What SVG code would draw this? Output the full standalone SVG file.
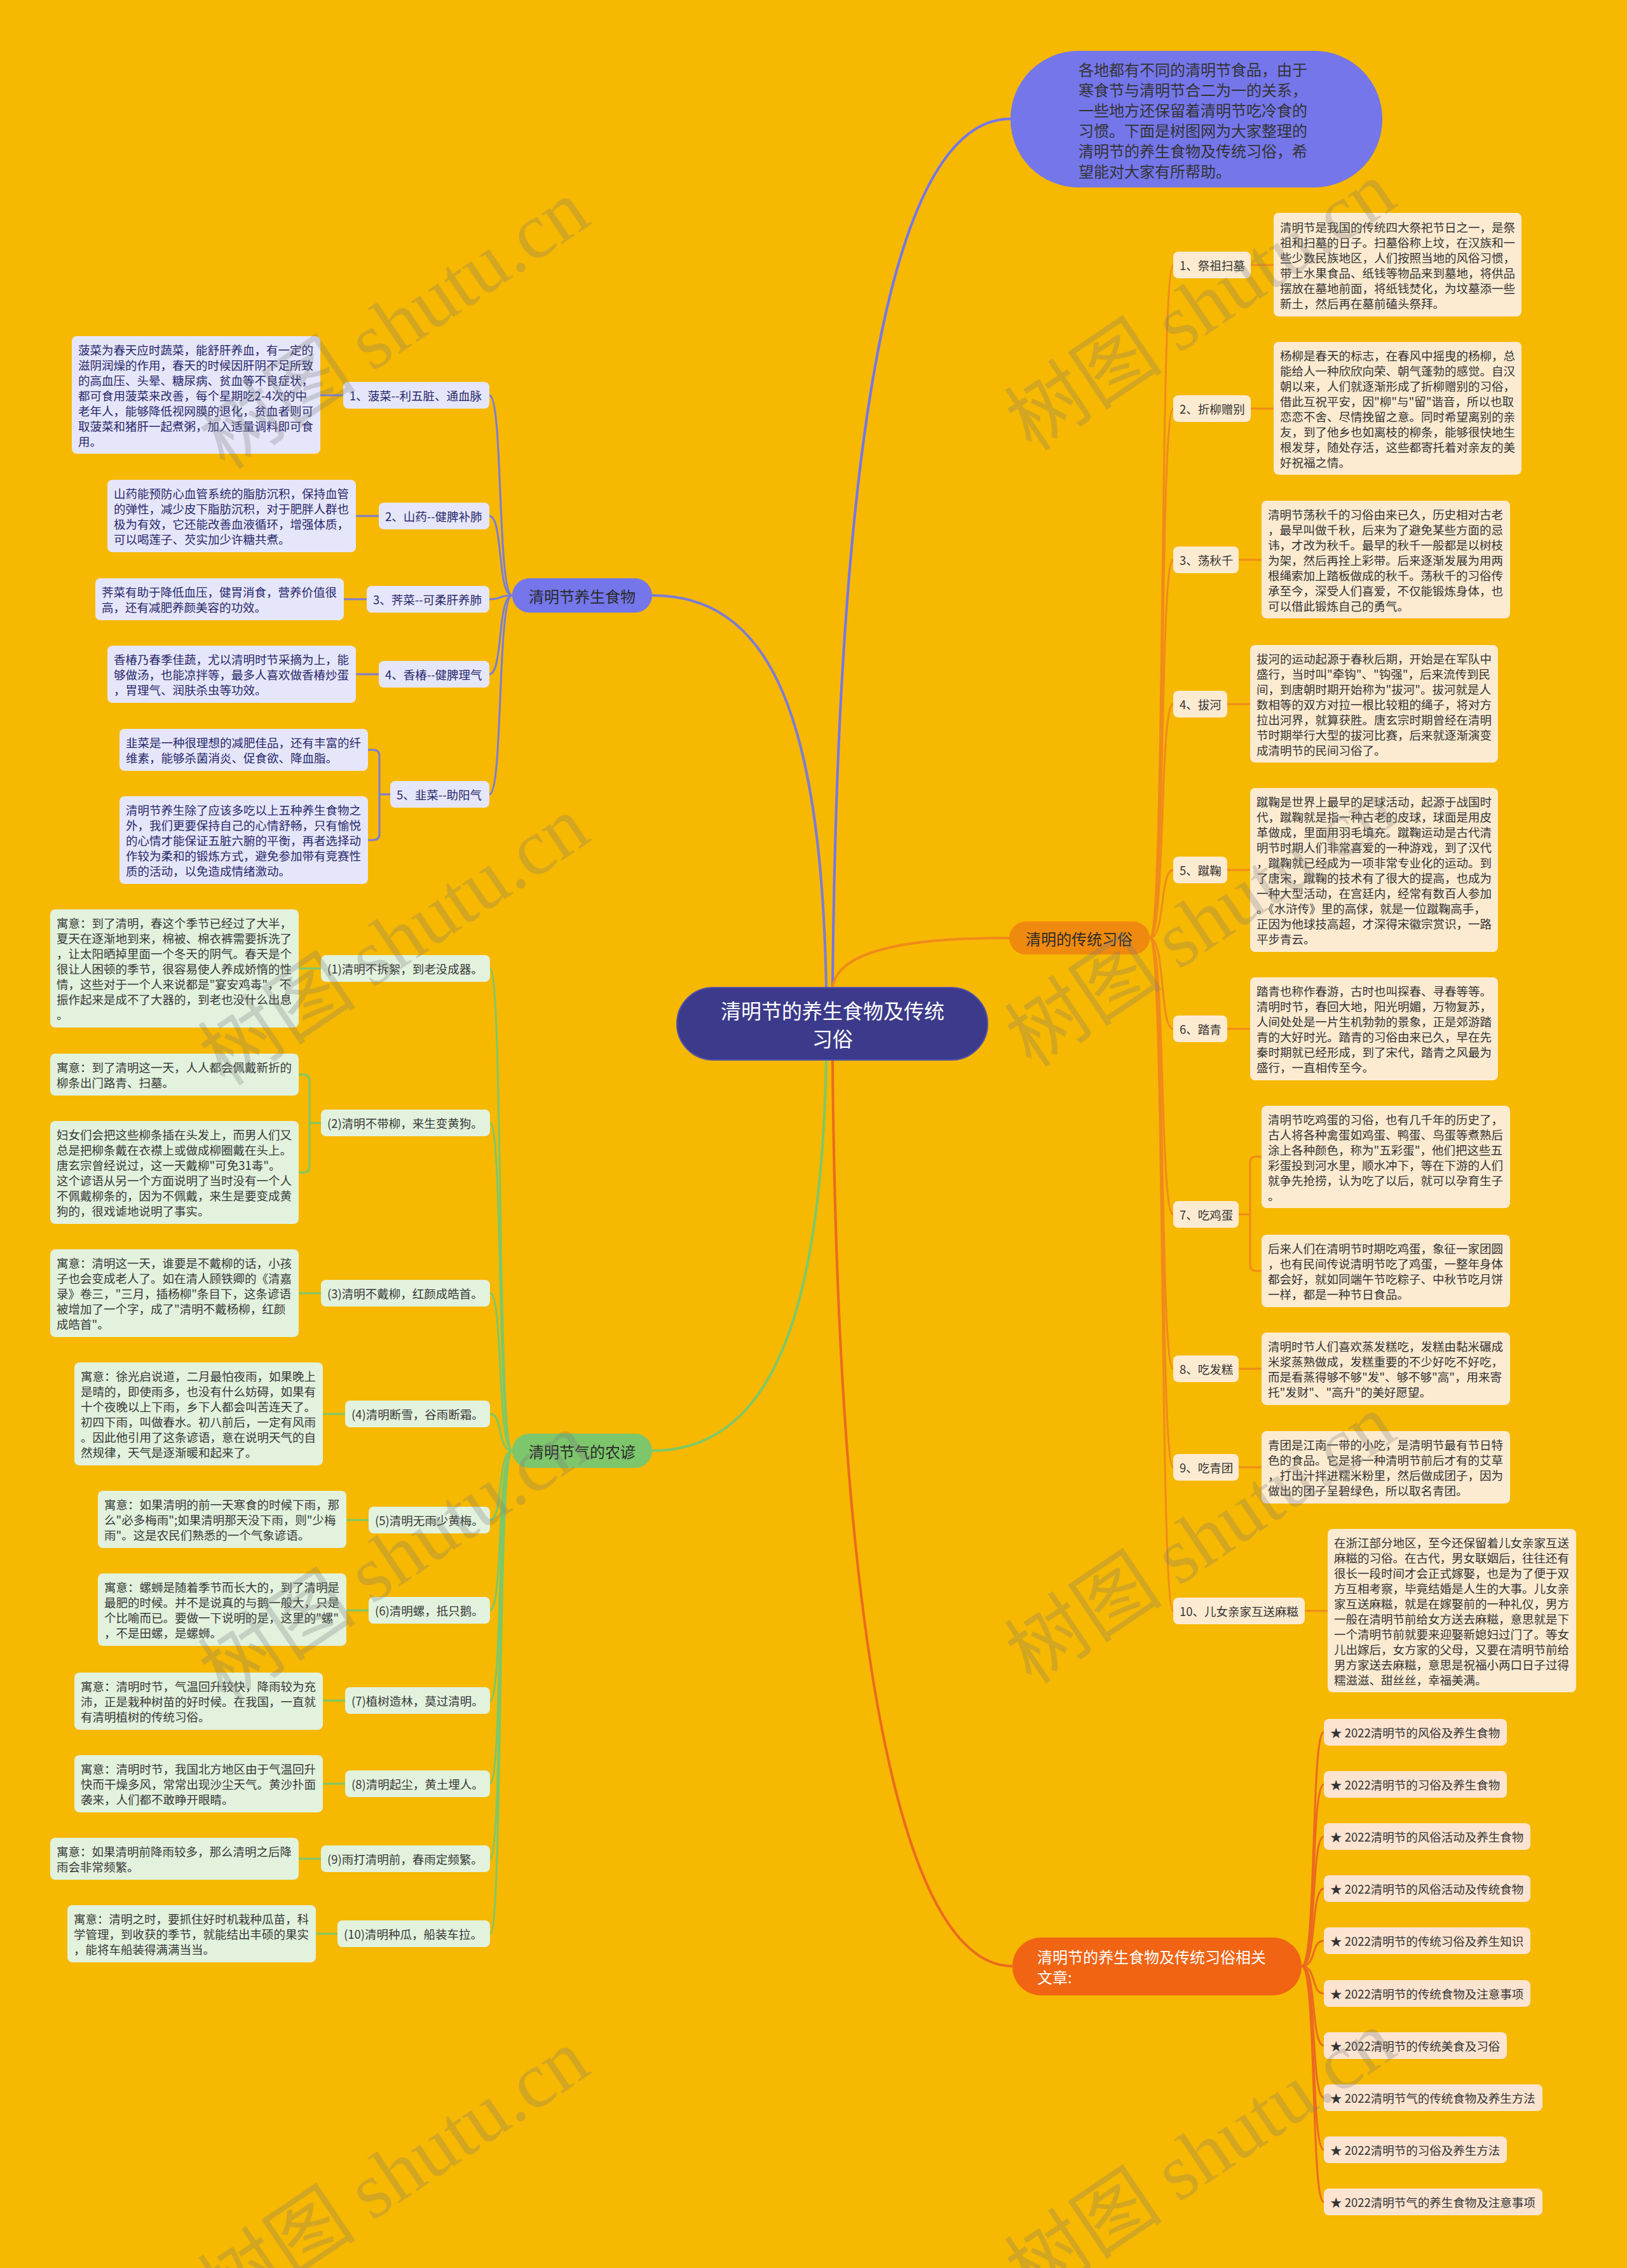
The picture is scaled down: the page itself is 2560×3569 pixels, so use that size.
<svg xmlns="http://www.w3.org/2000/svg" width="2560" height="3569" viewBox="0 0 2560 3569">
<style>
text{font-family:"Noto Sans CJK SC","Liberation Sans",sans-serif;dominant-baseline:central}
.t{font-size:18.5px;fill:#333}
.tf{font-size:18.5px;fill:#27286B}
.tp{font-size:18.5px;fill:#383838}
.rb{fill:#FDEBD1}
.fb{fill:#E6E6FA}
.pb{fill:#E2F2DD}
.ab{fill:#FCE4D0}
.c-main{fill:none;stroke-width:4;stroke-linecap:round}
.c-or{fill:none;stroke:#F08A1A;stroke-width:3}
.c-rd{fill:none;stroke:#EC6A1E;stroke-width:3}
.c-pu{fill:none;stroke:#7C7CD6;stroke-width:3}
.c-gr{fill:none;stroke:#7CC86A;stroke-width:3}
.wm{font-size:125px;fill:#7a7a7a;opacity:0.28;dominant-baseline:alphabetic}
.wm .en{font-family:"Liberation Serif",serif}
</style>
<rect x="0" y="0" width="2560" height="3569" fill="#F6B800"/>

<g id="connectors">
  <path class="c-main" stroke="#7476EA" d="M1310 1554 C1318 700,1400 187,1590 187"/>
  <path class="c-main" stroke="#F08A1A" d="M1310 1554 C1318 1490,1450 1476,1588 1476"/>
  <path class="c-main" stroke="#EC6A1E" d="M1310 1668 C1318 2600,1420 3094,1593 3094"/>
  <path class="c-main" stroke="#7C7CD6" d="M1300 1554 C1292 1100,1200 937,1026 937"/>
  <path class="c-main" stroke="#7CC86A" d="M1300 1668 C1292 2100,1200 2283,1026 2283"/>
  <!-- right customs -->
  <path class="c-or" d="M1809 1476 C1834 1476,1824 417,1846 417"/>
  <path class="c-or" d="M1809 1476 C1834 1476,1824 643,1846 643"/>
  <path class="c-or" d="M1809 1476 C1834 1476,1824 881,1846 881"/>
  <path class="c-or" d="M1809 1476 C1834 1476,1824 1108,1846 1108"/>
  <path class="c-or" d="M1809 1476 C1834 1476,1824 1369,1846 1369"/>
  <path class="c-or" d="M1809 1476 C1834 1476,1824 1619,1846 1619"/>
  <path class="c-or" d="M1809 1476 C1834 1476,1824 1911,1846 1911"/>
  <path class="c-or" d="M1809 1476 C1834 1476,1824 2154,1846 2154"/>
  <path class="c-or" d="M1809 1476 C1834 1476,1824 2309,1846 2309"/>
  <path class="c-or" d="M1809 1476 C1834 1476,1824 2535,1846 2535"/>
  <path class="c-or" d="M1968 417 H2004"/>
  <path class="c-or" d="M1968 643 H2004"/>
  <path class="c-or" d="M1949 881 H1985"/>
  <path class="c-or" d="M1931 1108 H1967"/>
  <path class="c-or" d="M1931 1369 H1967"/>
  <path class="c-or" d="M1931 1619 H1967"/>
  <path class="c-or" d="M1949 1911 H1967 M1985 1820 H1977 Q1967 1820 1967 1830 V1990 Q1967 2000 1977 2000 H1985"/>
  <path class="c-or" d="M1949 2154 H1985"/>
  <path class="c-or" d="M1949 2309 H1985"/>
  <path class="c-or" d="M2053 2535 H2089"/>
  <!-- articles -->
  <path class="c-rd" d="M2048 3094 C2072 3094,2062 2726,2083 2726"/>
  <path class="c-rd" d="M2048 3094 C2072 3094,2062 2808,2083 2808"/>
  <path class="c-rd" d="M2048 3094 C2072 3094,2062 2890,2083 2890"/>
  <path class="c-rd" d="M2048 3094 C2072 3094,2062 2972,2083 2972"/>
  <path class="c-rd" d="M2048 3094 C2072 3094,2062 3054,2083 3054"/>
  <path class="c-rd" d="M2048 3094 C2072 3094,2062 3137,2083 3137"/>
  <path class="c-rd" d="M2048 3094 C2072 3094,2062 3219,2083 3219"/>
  <path class="c-rd" d="M2048 3094 C2072 3094,2062 3301,2083 3301"/>
  <path class="c-rd" d="M2048 3094 C2072 3094,2062 3383,2083 3383"/>
  <path class="c-rd" d="M2048 3094 C2072 3094,2062 3465,2083 3465"/>
  <!-- food -->
  <path class="c-pu" d="M806 937 C782 937,792 622,770 622"/>
  <path class="c-pu" d="M806 937 C782 937,792 812,770 812"/>
  <path class="c-pu" d="M806 937 C782 937,792 943,770 943"/>
  <path class="c-pu" d="M806 937 C782 937,792 1061,770 1061"/>
  <path class="c-pu" d="M806 937 C782 937,792 1250,770 1250"/>
  <path class="c-pu" d="M540 622 H504"/>
  <path class="c-pu" d="M596 812 H560"/>
  <path class="c-pu" d="M577 943 H541"/>
  <path class="c-pu" d="M596 1061 H560"/>
  <path class="c-pu" d="M614 1250 H597 M579 1180 H587 Q597 1180 597 1190 V1312 Q597 1322 587 1322 H579"/>
  <!-- proverbs -->
  <path class="c-gr" d="M806 2283 C782 2283,792 1524,771 1524"/>
  <path class="c-gr" d="M806 2283 C782 2283,792 1767,771 1767"/>
  <path class="c-gr" d="M806 2283 C782 2283,792 2035,771 2035"/>
  <path class="c-gr" d="M806 2283 C782 2283,792 2225,771 2225"/>
  <path class="c-gr" d="M806 2283 C782 2283,792 2392,771 2392"/>
  <path class="c-gr" d="M806 2283 C782 2283,792 2534,771 2534"/>
  <path class="c-gr" d="M806 2283 C782 2283,792 2676,771 2676"/>
  <path class="c-gr" d="M806 2283 C782 2283,792 2807,771 2807"/>
  <path class="c-gr" d="M806 2283 C782 2283,792 2925,771 2925"/>
  <path class="c-gr" d="M806 2283 C782 2283,792 3043,771 3043"/>
  <path class="c-gr" d="M505 1524 H470"/>
  <path class="c-gr" d="M505 1767 H487 M470 1691 H477 Q487 1691 487 1701 V1835 Q487 1845 477 1845 H470"/>
  <path class="c-gr" d="M505 2035 H470"/>
  <path class="c-gr" d="M543 2225 H508"/>
  <path class="c-gr" d="M580 2392 H545"/>
  <path class="c-gr" d="M580 2534 H545"/>
  <path class="c-gr" d="M543 2676 H508"/>
  <path class="c-gr" d="M543 2807 H508"/>
  <path class="c-gr" d="M505 2925 H470"/>
  <path class="c-gr" d="M531 3043 H497"/>
</g>

<g id="root">
  <rect x="1065" y="1554" width="489" height="114" rx="57" fill="#3C3A8A" stroke="#5552A8" stroke-width="2"/>
  <text x="1310" y="1589" text-anchor="middle" style="font-size:32px;fill:#fff">清明节的养生食物及传统</text>
  <text x="1310" y="1633" text-anchor="middle" style="font-size:32px;fill:#fff">习俗</text>
</g>

<g id="intro">
  <rect x="1590" y="80" width="585" height="215" rx="107" fill="#7476EA"/>
  <text style="font-size:24px;fill:#333">
    <tspan x="1697" y="108">各地都有不同的清明节食品，由于</tspan>
    <tspan x="1697" y="140">寒食节与清明节合二为一的关系，</tspan>
    <tspan x="1697" y="172">一些地方还保留着清明节吃冷食的</tspan>
    <tspan x="1697" y="204">习惯。下面是树图网为大家整理的</tspan>
    <tspan x="1697" y="236">清明节的养生食物及传统习俗，希</tspan>
    <tspan x="1697" y="268">望能对大家有所帮助。</tspan>
  </text>
</g>

<g id="customs">
  <rect x="1588" y="1450" width="221" height="52" rx="26" fill="#F08A0E"/>
  <text x="1698" y="1476" text-anchor="middle" style="font-size:24px;fill:#2a2a2a">清明的传统习俗</text>
</g>

<g id="c1">
  <rect class="rb" x="1846" y="396" width="122" height="42" rx="8"/>
  <text class="t" x="1856" y="417">1、祭祖扫墓</text>
  <rect class="rb" x="2004" y="335" width="390" height="163" rx="8"/>
  <text class="t">
    <tspan x="2014" y="356.5">清明节是我国的传统四大祭祀节日之一，是祭</tspan>
    <tspan x="2014" y="380.5">祖和扫墓的日子。扫墓俗称上坟，在汉族和一</tspan>
    <tspan x="2014" y="404.5">些少数民族地区，人们按照当地的风俗习惯，</tspan>
    <tspan x="2014" y="428.5">带上水果食品、纸钱等物品来到墓地，将供品</tspan>
    <tspan x="2014" y="452.5">摆放在墓地前面，将纸钱焚化，为坟墓添一些</tspan>
    <tspan x="2014" y="476.5">新土，然后再在墓前磕头祭拜。</tspan>
  </text>
</g>
<g id="c2">
  <rect class="rb" x="1846" y="622" width="122" height="42" rx="8"/>
  <text class="t" x="1856" y="643">2、折柳赠别</text>
  <rect class="rb" x="2004" y="538" width="390" height="209" rx="8"/>
  <text class="t">
    <tspan x="2014" y="558.5">杨柳是春天的标志，在春风中摇曳的杨柳，总</tspan>
    <tspan x="2014" y="582.5">能给人一种欣欣向荣、朝气蓬勃的感觉。自汉</tspan>
    <tspan x="2014" y="606.5">朝以来，人们就逐渐形成了折柳赠别的习俗，</tspan>
    <tspan x="2014" y="630.5">借此互祝平安，因"柳"与"留"谐音，所以也取</tspan>
    <tspan x="2014" y="654.5">恋恋不舍、尽情挽留之意。同时希望离别的亲</tspan>
    <tspan x="2014" y="678.5">友，到了他乡也如离枝的柳条，能够很快地生</tspan>
    <tspan x="2014" y="702.5">根发芽，随处存活，这些都寄托着对亲友的美</tspan>
    <tspan x="2014" y="726.5">好祝福之情。</tspan>
  </text>
</g>
<g id="c3">
  <rect class="rb" x="1846" y="860" width="103" height="42" rx="8"/>
  <text class="t" x="1856" y="881">3、荡秋千</text>
  <rect class="rb" x="1985" y="788" width="391" height="185" rx="8"/>
  <text class="t">
    <tspan x="1995" y="808.5">清明节荡秋千的习俗由来已久，历史相对古老</tspan>
    <tspan x="1995" y="832.5">，最早叫做千秋，后来为了避免某些方面的忌</tspan>
    <tspan x="1995" y="856.5">讳，才改为秋千。最早的秋千一般都是以树枝</tspan>
    <tspan x="1995" y="880.5">为架，然后再拴上彩带。后来逐渐发展为用两</tspan>
    <tspan x="1995" y="904.5">根绳索加上踏板做成的秋千。荡秋千的习俗传</tspan>
    <tspan x="1995" y="928.5">承至今，深受人们喜爱，不仅能锻炼身体，也</tspan>
    <tspan x="1995" y="952.5">可以借此锻炼自己的勇气。</tspan>
  </text>
</g>
<g id="c4">
  <rect class="rb" x="1846" y="1087" width="85" height="42" rx="8"/>
  <text class="t" x="1856" y="1108">4、拔河</text>
  <rect class="rb" x="1967" y="1015" width="390" height="185" rx="8"/>
  <text class="t">
    <tspan x="1977" y="1035.5">拔河的运动起源于春秋后期，开始是在军队中</tspan>
    <tspan x="1977" y="1059.5">盛行，当时叫"牵钩"、"钩强"，后来流传到民</tspan>
    <tspan x="1977" y="1083.5">间，到唐朝时期开始称为"拔河"。拔河就是人</tspan>
    <tspan x="1977" y="1107.5">数相等的双方对拉一根比较粗的绳子，将对方</tspan>
    <tspan x="1977" y="1131.5">拉出河界，就算获胜。唐玄宗时期曾经在清明</tspan>
    <tspan x="1977" y="1155.5">节时期举行大型的拔河比赛，后来就逐渐演变</tspan>
    <tspan x="1977" y="1179.5">成清明节的民间习俗了。</tspan>
  </text>
</g>
<g id="c5">
  <rect class="rb" x="1846" y="1348" width="85" height="42" rx="8"/>
  <text class="t" x="1856" y="1369">5、蹴鞠</text>
  <rect class="rb" x="1967" y="1240" width="390" height="258" rx="8"/>
  <text class="t">
    <tspan x="1977" y="1261">蹴鞠是世界上最早的足球活动，起源于战国时</tspan>
    <tspan x="1977" y="1285">代，蹴鞠就是指一种古老的皮球，球面是用皮</tspan>
    <tspan x="1977" y="1309">革做成，里面用羽毛填充。蹴鞠运动是古代清</tspan>
    <tspan x="1977" y="1333">明节时期人们非常喜爱的一种游戏，到了汉代</tspan>
    <tspan x="1977" y="1357">，蹴鞠就已经成为一项非常专业化的运动。到</tspan>
    <tspan x="1977" y="1381">了唐宋，蹴鞠的技术有了很大的提高，也成为</tspan>
    <tspan x="1977" y="1405">一种大型活动，在宫廷内，经常有数百人参加</tspan>
    <tspan x="1977" y="1429">。《水浒传》里的高俅，就是一位蹴鞠高手，</tspan>
    <tspan x="1977" y="1453">正因为他球技高超，才深得宋徽宗赏识，一路</tspan>
    <tspan x="1977" y="1477">平步青云。</tspan>
  </text>
</g>
<g id="c6">
  <rect class="rb" x="1846" y="1598" width="85" height="42" rx="8"/>
  <text class="t" x="1856" y="1619">6、踏青</text>
  <rect class="rb" x="1967" y="1538" width="390" height="162" rx="8"/>
  <text class="t">
    <tspan x="1977" y="1559">踏青也称作春游，古时也叫探春、寻春等等。</tspan>
    <tspan x="1977" y="1583">清明时节，春回大地，阳光明媚，万物复苏，</tspan>
    <tspan x="1977" y="1607">人间处处是一片生机勃勃的景象，正是郊游踏</tspan>
    <tspan x="1977" y="1631">青的大好时光。踏青的习俗由来已久，早在先</tspan>
    <tspan x="1977" y="1655">秦时期就已经形成，到了宋代，踏青之风最为</tspan>
    <tspan x="1977" y="1679">盛行，一直相传至今。</tspan>
  </text>
</g>
<g id="c7">
  <rect class="rb" x="1846" y="1890" width="103" height="42" rx="8"/>
  <text class="t" x="1856" y="1911">7、吃鸡蛋</text>
  <rect class="rb" x="1985" y="1740" width="391" height="161" rx="8"/>
  <text class="t">
    <tspan x="1995" y="1760.5">清明节吃鸡蛋的习俗，也有几千年的历史了，</tspan>
    <tspan x="1995" y="1784.5">古人将各种禽蛋如鸡蛋、鸭蛋、鸟蛋等煮熟后</tspan>
    <tspan x="1995" y="1808.5">涂上各种颜色，称为"五彩蛋"，他们把这些五</tspan>
    <tspan x="1995" y="1832.5">彩蛋投到河水里，顺水冲下，等在下游的人们</tspan>
    <tspan x="1995" y="1856.5">就争先抢捞，认为吃了以后，就可以孕育生子</tspan>
    <tspan x="1995" y="1880.5">。</tspan>
  </text>
  <rect class="rb" x="1985" y="1943" width="391" height="114" rx="8"/>
  <text class="t">
    <tspan x="1995" y="1964">后来人们在清明节时期吃鸡蛋，象征一家团圆</tspan>
    <tspan x="1995" y="1988">，也有民间传说清明节吃了鸡蛋，一整年身体</tspan>
    <tspan x="1995" y="2012">都会好，就如同端午节吃粽子、中秋节吃月饼</tspan>
    <tspan x="1995" y="2036">一样，都是一种节日食品。</tspan>
  </text>
</g>
<g id="c8">
  <rect class="rb" x="1846" y="2133" width="103" height="42" rx="8"/>
  <text class="t" x="1856" y="2154">8、吃发糕</text>
  <rect class="rb" x="1985" y="2097" width="391" height="114" rx="8"/>
  <text class="t">
    <tspan x="1995" y="2118">清明时节人们喜欢蒸发糕吃，发糕由黏米碾成</tspan>
    <tspan x="1995" y="2142">米浆蒸熟做成，发糕重要的不少好吃不好吃，</tspan>
    <tspan x="1995" y="2166">而是看蒸得够不够"发"、够不够"高"，用来寄</tspan>
    <tspan x="1995" y="2190">托"发财"、"高升"的美好愿望。</tspan>
  </text>
</g>
<g id="c9">
  <rect class="rb" x="1846" y="2288" width="103" height="42" rx="8"/>
  <text class="t" x="1856" y="2309">9、吃青团</text>
  <rect class="rb" x="1985" y="2252" width="391" height="114" rx="8"/>
  <text class="t">
    <tspan x="1995" y="2273">青团是江南一带的小吃，是清明节最有节日特</tspan>
    <tspan x="1995" y="2297">色的食品。它是将一种清明节前后才有的艾草</tspan>
    <tspan x="1995" y="2321">，打出汁拌进糯米粉里，然后做成团子，因为</tspan>
    <tspan x="1995" y="2345">做出的团子呈碧绿色，所以取名青团。</tspan>
  </text>
</g>
<g id="c10">
  <rect class="rb" x="1846" y="2514" width="207" height="42" rx="8"/>
  <text class="t" x="1856" y="2535">10、儿女亲家互送麻糍</text>
  <rect class="rb" x="2089" y="2406" width="391" height="257" rx="8"/>
  <text class="t">
    <tspan x="2099" y="2426.5">在浙江部分地区，至今还保留着儿女亲家互送</tspan>
    <tspan x="2099" y="2450.5">麻糍的习俗。在古代，男女联姻后，往往还有</tspan>
    <tspan x="2099" y="2474.5">很长一段时间才会正式嫁娶，也是为了便于双</tspan>
    <tspan x="2099" y="2498.5">方互相考察，毕竟结婚是人生的大事。儿女亲</tspan>
    <tspan x="2099" y="2522.5">家互送麻糍，就是在嫁娶前的一种礼仪，男方</tspan>
    <tspan x="2099" y="2546.5">一般在清明节前给女方送去麻糍，意思就是下</tspan>
    <tspan x="2099" y="2570.5">一个清明节前就要来迎娶新媳妇过门了。等女</tspan>
    <tspan x="2099" y="2594.5">儿出嫁后，女方家的父母，又要在清明节前给</tspan>
    <tspan x="2099" y="2618.5">男方家送去麻糍，意思是祝福小两口日子过得</tspan>
    <tspan x="2099" y="2642.5">糯滋滋、甜丝丝，幸福美满。</tspan>
  </text>
</g>

<g id="articles">
  <rect x="1593" y="3049" width="455" height="91" rx="45" fill="#F06414"/>
  <text style="font-size:24px;fill:#fff">
    <tspan x="1632" y="3078">清明节的养生食物及传统习俗相关</tspan>
    <tspan x="1632" y="3110">文章:</tspan>
  </text>
</g>
<g id="a1"><rect class="ab" x="2083" y="2705" width="288" height="42" rx="8"/><text class="t" x="2093" y="2726">★ 2022清明节的风俗及养生食物</text></g>
<g id="a2"><rect class="ab" x="2083" y="2787" width="288" height="42" rx="8"/><text class="t" x="2093" y="2808">★ 2022清明节的习俗及养生食物</text></g>
<g id="a3"><rect class="ab" x="2083" y="2869" width="325" height="42" rx="8"/><text class="t" x="2093" y="2890">★ 2022清明节的风俗活动及养生食物</text></g>
<g id="a4"><rect class="ab" x="2083" y="2951" width="325" height="42" rx="8"/><text class="t" x="2093" y="2972">★ 2022清明节的风俗活动及传统食物</text></g>
<g id="a5"><rect class="ab" x="2083" y="3033" width="325" height="42" rx="8"/><text class="t" x="2093" y="3054">★ 2022清明节的传统习俗及养生知识</text></g>
<g id="a6"><rect class="ab" x="2083" y="3116" width="325" height="42" rx="8"/><text class="t" x="2093" y="3137">★ 2022清明节的传统食物及注意事项</text></g>
<g id="a7"><rect class="ab" x="2083" y="3198" width="288" height="42" rx="8"/><text class="t" x="2093" y="3219">★ 2022清明节的传统美食及习俗</text></g>
<g id="a8"><rect class="ab" x="2083" y="3280" width="344" height="42" rx="8"/><text class="t" x="2093" y="3301">★ 2022清明节气的传统食物及养生方法</text></g>
<g id="a9"><rect class="ab" x="2083" y="3362" width="288" height="42" rx="8"/><text class="t" x="2093" y="3383">★ 2022清明节的习俗及养生方法</text></g>
<g id="a10"><rect class="ab" x="2083" y="3444" width="344" height="42" rx="8"/><text class="t" x="2093" y="3465">★ 2022清明节气的养生食物及注意事项</text></g>

<g id="food">
  <rect x="806" y="910" width="220" height="54" rx="27" fill="#7476EA"/>
  <text x="916" y="937" text-anchor="middle" style="font-size:24px;fill:#2a2a2a">清明节养生食物</text>
</g>
<g id="f1">
  <rect class="fb" x="540" y="601" width="230" height="42" rx="8"/>
  <text class="tf" x="550" y="622">1、菠菜--利五脏、通血脉</text>
  <rect class="fb" x="113" y="529" width="391" height="185" rx="8"/>
  <text class="tf">
    <tspan x="123" y="549.5">菠菜为春天应时蔬菜，能舒肝养血，有一定的</tspan>
    <tspan x="123" y="573.5">滋阴润燥的作用，春天的时候因肝阴不足所致</tspan>
    <tspan x="123" y="597.5">的高血压、头晕、糖尿病、贫血等不良症状，</tspan>
    <tspan x="123" y="621.5">都可食用菠菜来改善，每个星期吃2-4次的中</tspan>
    <tspan x="123" y="645.5">老年人，能够降低视网膜的退化，贫血者则可</tspan>
    <tspan x="123" y="669.5">取菠菜和猪肝一起煮粥，加入适量调料即可食</tspan>
    <tspan x="123" y="693.5">用。</tspan>
  </text>
</g>
<g id="f2">
  <rect class="fb" x="596" y="791" width="174" height="42" rx="8"/>
  <text class="tf" x="606" y="812">2、山药--健脾补肺</text>
  <rect class="fb" x="169" y="755" width="391" height="114" rx="8"/>
  <text class="tf">
    <tspan x="179" y="776">山药能预防心血管系统的脂肪沉积，保持血管</tspan>
    <tspan x="179" y="800">的弹性，减少皮下脂肪沉积，对于肥胖人群也</tspan>
    <tspan x="179" y="824">极为有效，它还能改善血液循环，增强体质，</tspan>
    <tspan x="179" y="848">可以喝莲子、芡实加少许糖共煮。</tspan>
  </text>
</g>
<g id="f3">
  <rect class="fb" x="577" y="922" width="193" height="42" rx="8"/>
  <text class="tf" x="587" y="943">3、荠菜--可柔肝养肺</text>
  <rect class="fb" x="150" y="910" width="391" height="66" rx="8"/>
  <text class="tf">
    <tspan x="160" y="931">荠菜有助于降低血压，健胃消食，营养价值很</tspan>
    <tspan x="160" y="955">高，还有减肥养颜美容的功效。</tspan>
  </text>
</g>
<g id="f4">
  <rect class="fb" x="596" y="1040" width="174" height="42" rx="8"/>
  <text class="tf" x="606" y="1061">4、香椿--健脾理气</text>
  <rect class="fb" x="169" y="1016" width="391" height="90" rx="8"/>
  <text class="tf">
    <tspan x="179" y="1037">香椿乃春季佳蔬，尤以清明时节采摘为上，能</tspan>
    <tspan x="179" y="1061">够做汤，也能凉拌等，最多人喜欢做香椿炒蛋</tspan>
    <tspan x="179" y="1085">，胃理气、润肤杀虫等功效。</tspan>
  </text>
</g>
<g id="f5">
  <rect class="fb" x="614" y="1229" width="156" height="42" rx="8"/>
  <text class="tf" x="624" y="1250">5、韭菜--助阳气</text>
  <rect class="fb" x="188" y="1147" width="391" height="66" rx="8"/>
  <text class="tf">
    <tspan x="198" y="1168">韭菜是一种很理想的减肥佳品，还有丰富的纤</tspan>
    <tspan x="198" y="1192">维素，能够杀菌消炎、促食欲、降血脂。</tspan>
  </text>
  <rect class="fb" x="188" y="1253" width="391" height="138" rx="8"/>
  <text class="tf">
    <tspan x="198" y="1274">清明节养生除了应该多吃以上五种养生食物之</tspan>
    <tspan x="198" y="1298">外，我们更要保持自己的心情舒畅，只有愉悦</tspan>
    <tspan x="198" y="1322">的心情才能保证五脏六腑的平衡，再者选择动</tspan>
    <tspan x="198" y="1346">作较为柔和的锻炼方式，避免参加带有竞赛性</tspan>
    <tspan x="198" y="1370">质的活动，以免造成情绪激动。</tspan>
  </text>
</g>

<g id="proverbs">
  <rect x="806" y="2256" width="220" height="54" rx="27" fill="#7DC66B"/>
  <text x="916" y="2283" text-anchor="middle" style="font-size:24px;fill:#2a2a2a">清明节气的农谚</text>
</g>
<g id="p1">
  <rect class="pb" x="505" y="1503" width="266" height="42" rx="8"/>
  <text class="tp" x="515" y="1524">(1)清明不拆絮，到老没成器。</text>
  <rect class="pb" x="79" y="1431" width="391" height="186" rx="8"/>
  <text class="tp">
    <tspan x="89" y="1452">寓意：到了清明，春这个季节已经过了大半，</tspan>
    <tspan x="89" y="1476">夏天在逐渐地到来，棉被、棉衣裤需要拆洗了</tspan>
    <tspan x="89" y="1500">，让太阳晒掉里面一个冬天的阴气。春天是个</tspan>
    <tspan x="89" y="1524">很让人困顿的季节，很容易使人养成娇惰的性</tspan>
    <tspan x="89" y="1548">情，这些对于一个人来说都是"宴安鸡毒"，不</tspan>
    <tspan x="89" y="1572">振作起来是成不了大器的，到老也没什么出息</tspan>
    <tspan x="89" y="1596">。</tspan>
  </text>
</g>
<g id="p2">
  <rect class="pb" x="505" y="1746" width="266" height="42" rx="8"/>
  <text class="tp" x="515" y="1767">(2)清明不带柳，来生变黄狗。</text>
  <rect class="pb" x="79" y="1658" width="391" height="66" rx="8"/>
  <text class="tp">
    <tspan x="89" y="1679">寓意：到了清明这一天，人人都会佩戴新折的</tspan>
    <tspan x="89" y="1703">柳条出门路青、扫墓。</tspan>
  </text>
  <rect class="pb" x="79" y="1764" width="391" height="162" rx="8"/>
  <text class="tp">
    <tspan x="89" y="1785">妇女们会把这些柳条插在头发上，而男人们又</tspan>
    <tspan x="89" y="1809">总是把柳条戴在衣襟上或做成柳圈戴在头上。</tspan>
    <tspan x="89" y="1833">唐玄宗曾经说过，这一天戴柳"可免31毒"。</tspan>
    <tspan x="89" y="1857">这个谚语从另一个方面说明了当时没有一个人</tspan>
    <tspan x="89" y="1881">不佩戴柳条的，因为不佩戴，来生是要变成黄</tspan>
    <tspan x="89" y="1905">狗的，很戏谑地说明了事实。</tspan>
  </text>
</g>
<g id="p3">
  <rect class="pb" x="505" y="2014" width="266" height="42" rx="8"/>
  <text class="tp" x="515" y="2035">(3)清明不戴柳，红颜成皓首。</text>
  <rect class="pb" x="79" y="1966" width="391" height="138" rx="8"/>
  <text class="tp">
    <tspan x="89" y="1987">寓意：清明这一天，谁要是不戴柳的话，小孩</tspan>
    <tspan x="89" y="2011">子也会变成老人了。如在清人顾铁卿的《清嘉</tspan>
    <tspan x="89" y="2035">录》卷三，"三月，插杨柳"条目下，这条谚语</tspan>
    <tspan x="89" y="2059">被增加了一个字，成了"清明不戴杨柳，红颜</tspan>
    <tspan x="89" y="2083">成皓首"。</tspan>
  </text>
</g>
<g id="p4">
  <rect class="pb" x="543" y="2204" width="228" height="42" rx="8"/>
  <text class="tp" x="553" y="2225">(4)清明断雪，谷雨断霜。</text>
  <rect class="pb" x="117" y="2144" width="391" height="162" rx="8"/>
  <text class="tp">
    <tspan x="127" y="2165">寓意：徐光启说道，二月最怕夜雨，如果晚上</tspan>
    <tspan x="127" y="2189">是晴的，即使雨多，也没有什么妨碍，如果有</tspan>
    <tspan x="127" y="2213">十个夜晚以上下雨，乡下人都会叫苦连天了。</tspan>
    <tspan x="127" y="2237">初四下雨，叫做春水。初八前后，一定有风雨</tspan>
    <tspan x="127" y="2261">。因此他引用了这条谚语，意在说明天气的自</tspan>
    <tspan x="127" y="2285">然规律，天气是逐渐暖和起来了。</tspan>
  </text>
</g>
<g id="p5">
  <rect class="pb" x="580" y="2371" width="191" height="42" rx="8"/>
  <text class="tp" x="590" y="2392">(5)清明无雨少黄梅。</text>
  <rect class="pb" x="154" y="2346" width="391" height="90" rx="8"/>
  <text class="tp">
    <tspan x="164" y="2367">寓意：如果清明的前一天寒食的时候下雨，那</tspan>
    <tspan x="164" y="2391">么"必多梅雨";如果清明那天没下雨，则"少梅</tspan>
    <tspan x="164" y="2415">雨"。这是农民们熟悉的一个气象谚语。</tspan>
  </text>
</g>
<g id="p6">
  <rect class="pb" x="580" y="2513" width="191" height="42" rx="8"/>
  <text class="tp" x="590" y="2534">(6)清明螺，抵只鹅。</text>
  <rect class="pb" x="154" y="2476" width="391" height="114" rx="8"/>
  <text class="tp">
    <tspan x="164" y="2497">寓意：螺蛳是随着季节而长大的，到了清明是</tspan>
    <tspan x="164" y="2521">最肥的时候。并不是说真的与鹅一般大，只是</tspan>
    <tspan x="164" y="2545">个比喻而已。要做一下说明的是，这里的"螺"</tspan>
    <tspan x="164" y="2569">，不是田螺，是螺蛳。</tspan>
  </text>
</g>
<g id="p7">
  <rect class="pb" x="543" y="2655" width="228" height="42" rx="8"/>
  <text class="tp" x="553" y="2676">(7)植树造林，莫过清明。</text>
  <rect class="pb" x="117" y="2632" width="391" height="90" rx="8"/>
  <text class="tp">
    <tspan x="127" y="2653">寓意：清明时节，气温回升较快，降雨较为充</tspan>
    <tspan x="127" y="2677">沛，正是栽种树苗的好时候。在我国，一直就</tspan>
    <tspan x="127" y="2701">有清明植树的传统习俗。</tspan>
  </text>
</g>
<g id="p8">
  <rect class="pb" x="543" y="2786" width="228" height="42" rx="8"/>
  <text class="tp" x="553" y="2807">(8)清明起尘，黄土埋人。</text>
  <rect class="pb" x="117" y="2762" width="391" height="90" rx="8"/>
  <text class="tp">
    <tspan x="127" y="2783">寓意：清明时节，我国北方地区由于气温回升</tspan>
    <tspan x="127" y="2807">快而干燥多风，常常出现沙尘天气。黄沙扑面</tspan>
    <tspan x="127" y="2831">袭来，人们都不敢睁开眼睛。</tspan>
  </text>
</g>
<g id="p9">
  <rect class="pb" x="505" y="2904" width="266" height="42" rx="8"/>
  <text class="tp" x="515" y="2925">(9)雨打清明前，春雨定频繁。</text>
  <rect class="pb" x="79" y="2892" width="391" height="66" rx="8"/>
  <text class="tp">
    <tspan x="89" y="2913">寓意：如果清明前降雨较多，那么清明之后降</tspan>
    <tspan x="89" y="2937">雨会非常频繁。</tspan>
  </text>
</g>
<g id="p10">
  <rect class="pb" x="531" y="3022" width="240" height="42" rx="8"/>
  <text class="tp" x="541" y="3043">(10)清明种瓜，船装车拉。</text>
  <rect class="pb" x="106" y="2998" width="391" height="90" rx="8"/>
  <text class="tp">
    <tspan x="116" y="3019">寓意：清明之时，要抓住好时机栽种瓜苗，科</tspan>
    <tspan x="116" y="3043">学管理，到收获的季节，就能结出丰硕的果实</tspan>
    <tspan x="116" y="3067">，能将车船装得满满当当。</tspan>
  </text>
</g>

<g id="watermarks">
  <text class="wm" x="644" y="546" text-anchor="middle" transform="rotate(-34 644 546)">树图 <tspan class="en">shutu.cn</tspan></text>
  <text class="wm" x="1913" y="517" text-anchor="middle" transform="rotate(-34 1913 517)">树图 <tspan class="en">shutu.cn</tspan></text>
  <text class="wm" x="644" y="1516" text-anchor="middle" transform="rotate(-34 644 1516)">树图 <tspan class="en">shutu.cn</tspan></text>
  <text class="wm" x="1913" y="1487" text-anchor="middle" transform="rotate(-34 1913 1487)">树图 <tspan class="en">shutu.cn</tspan></text>
  <text class="wm" x="644" y="2486" text-anchor="middle" transform="rotate(-34 644 2486)">树图 <tspan class="en">shutu.cn</tspan></text>
  <text class="wm" x="1913" y="2457" text-anchor="middle" transform="rotate(-34 1913 2457)">树图 <tspan class="en">shutu.cn</tspan></text>
  <text class="wm" x="644" y="3456" text-anchor="middle" transform="rotate(-34 644 3456)">树图 <tspan class="en">shutu.cn</tspan></text>
  <text class="wm" x="1913" y="3427" text-anchor="middle" transform="rotate(-34 1913 3427)">树图 <tspan class="en">shutu.cn</tspan></text>
</g>
</svg>
